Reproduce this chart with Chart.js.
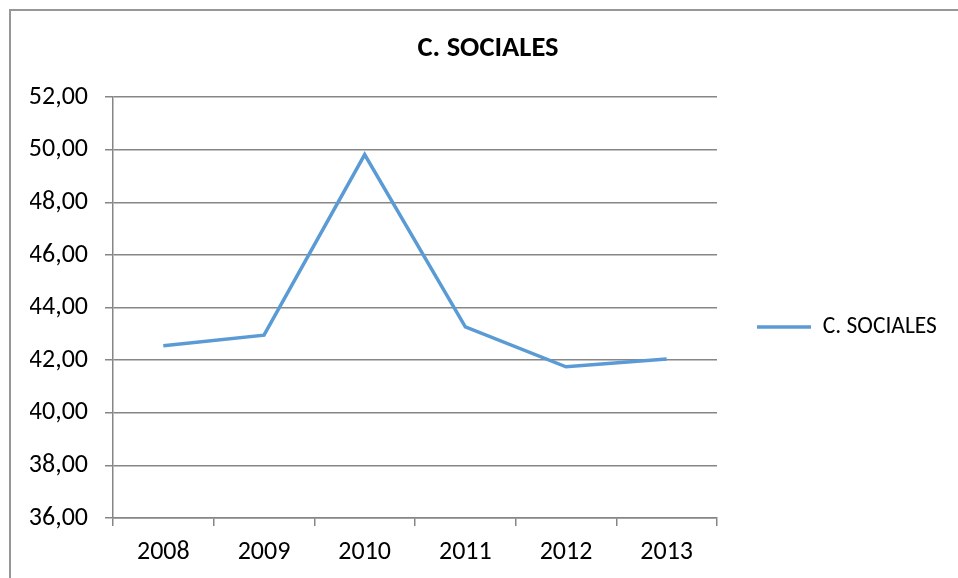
<!DOCTYPE html>
<html>
<head>
<meta charset="utf-8">
<script src="https://cdn.jsdelivr.net/npm/chart.js@4/dist/chart.umd.min.js"></script>
<style>
  html, body { margin: 0; padding: 0; background: #fff; }
  #wrap { position: relative; width: 958px; height: 578px; overflow: hidden; }
  #frame { position: absolute; left: 9px; top: 9px; width: 1200px; height: 1200px;
           border-left: 2px solid #979797; border-top: 2px solid #979797; }
  #chart { position: absolute; left: 0; top: 0; }
</style>
</head>
<body>
<div id="wrap">
  <div id="frame"></div>
  <canvas id="chart" width="958" height="578"></canvas>
</div>
<script>
// -----------------------------
// DATA
// -----------------------------
const years = ["2008", "2009", "2010", "2011", "2012", "2013"];
const sociales = [42.55, 42.95, 49.82, 43.27, 41.75, 42.05];
const seriesName = "C. SOCIALES";
const chartTitle = "C. SOCIALES";
const yMin = 36;
const yMax = 52;
const yStep = 2;

const FONT = "Calibri, Carlito, Lato, sans-serif";
const GRID = "#868686";
const BLUE = "#5B9BD5";

// -----------------------------
// HELPERS
// -----------------------------
function formatTick(v) {
    return Number(v).toFixed(2).replace(".", ",");
}

// legend sits below the canvas centre in the original
const legendShift = {
    id: "legendShift",
    afterLayout(chart) {
        const lg = chart.legend;
        if (!lg) return;
        lg.top += 38;
        lg.bottom += 38;
    }
};

// -----------------------------
// CHART
// -----------------------------
const ctx = document.getElementById("chart").getContext("2d");

new Chart(ctx, {
    type: "line",
    data: {
        labels: years,
        datasets: [{
            label: seriesName,
            data: sociales,
            borderColor: BLUE,
            backgroundColor: BLUE,
            borderWidth: 3.5,
            pointRadius: 0,
            tension: 0
        }]
    },
    plugins: [legendShift],
    options: {
        responsive: false,
        animation: false,
        layout: { padding: { top: 0, left: 30, bottom: 0, right: 12 } },
        plugins: {
            title: {
                display: true,
                text: chartTitle,
                color: "#000",
                font: { family: FONT, size: 28.5, weight: "bold" },
                padding: { top: 32, bottom: 31 }
            },
            legend: {
                position: "right",
                labels: {
                    color: "#000",
                    font: { family: FONT, size: 23.5 },
                    boxWidth: 54,
                    boxHeight: 0,
                    padding: 40
                }
            },
            tooltip: { enabled: false }
        },
        scales: {
            x: {
                offset: true,
                afterFit: s => { s.height = 60; },
                grid: { offset: true, drawOnChartArea: false, drawTicks: true, tickLength: 8, color: GRID, lineWidth: 1.5 },
                border: { color: GRID, width: 1.5 },
                ticks: { color: "#000", font: { family: FONT, size: 26 }, padding: 11 }
            },
            y: {
                min: yMin,
                max: yMax,
                afterFit: s => { s.width = 83; },
                grid: { color: GRID, lineWidth: 1.5, tickLength: 8 },
                border: { color: GRID, width: 1.5 },
                ticks: { stepSize: yStep, color: "#000", font: { family: FONT, size: 26 }, padding: 17, callback: formatTick }
            }
        }
    }
});
</script>
</body>
</html>
